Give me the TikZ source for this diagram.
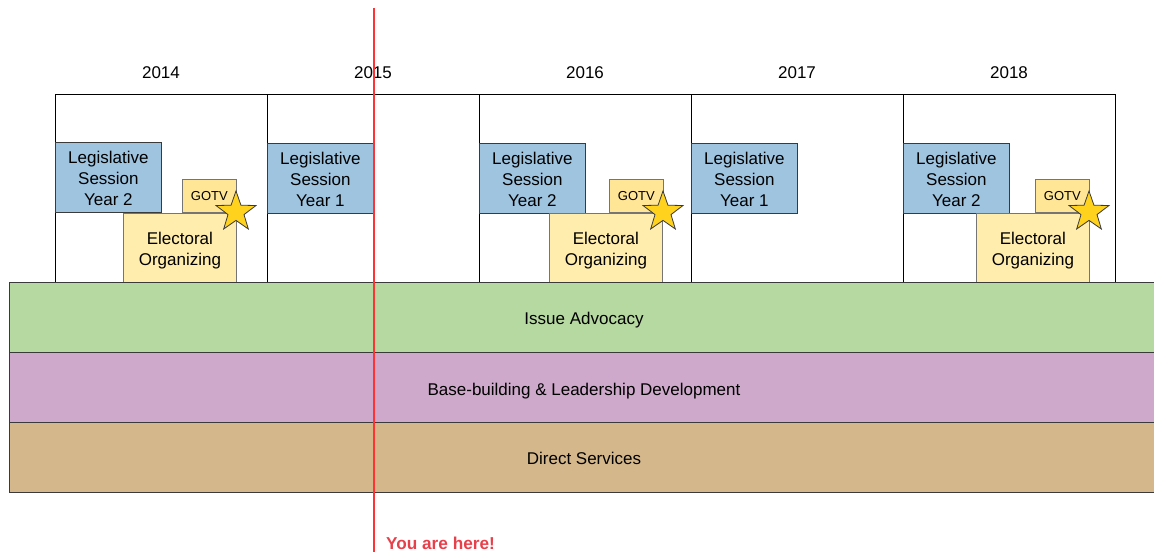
\documentclass[tikz,border=0pt]{standalone}
\usepackage{fontspec}
\setmainfont{Liberation Sans}
\usetikzlibrary{shapes.geometric}
\definecolor{legblue}{HTML}{9EC4E0}
\definecolor{elecyellow}{HTML}{FFEDAD}
\definecolor{gotvyellow}{HTML}{FFE596}
\definecolor{stargold}{HTML}{FFD21E}
\definecolor{bandgreen}{HTML}{B6D8A1}
\definecolor{bandpurple}{HTML}{CEA9CB}
\definecolor{bandtan}{HTML}{D4B88C}
\definecolor{herered}{HTML}{E8404A}
\definecolor{edge}{HTML}{3A3A3A}
\tikzset{
  txt/.style={font=\fontsize{17}{21}\selectfont},
  yearbox/.style={draw=black, line width=0.8pt, minimum width=212pt, minimum height=188pt, anchor=north west, inner sep=0pt},
  yearlabel/.style={txt},
  legbox/.style={draw=edge, fill=legblue, line width=0.8pt, minimum width=106pt, minimum height=70pt, anchor=north west, inner sep=0pt},
  gotvbox/.style={draw=edge!70, fill=gotvyellow, line width=0.8pt, minimum width=54pt, minimum height=33pt, anchor=north west, inner sep=0pt, font=\fontsize{13}{15}\selectfont},
  elecbox/.style={draw=edge!70, fill=elecyellow, line width=0.8pt, minimum width=113pt, minimum height=70pt, anchor=north west, inner sep=0pt},
  boxtext/.style={align=center, txt, inner sep=0pt},
  starmark/.style={star, star points=5, star point ratio=2.5, draw=edge, fill=stargold, line width=0.8pt, minimum size=42pt, inner sep=0pt},
  band/.style={draw=edge, line width=0.8pt, minimum width=1160pt, minimum height=70pt, anchor=north west, inner sep=0pt},
  bandlabel/.style={txt},
  hereline/.style={draw=red!80!white, line width=2pt},
}
\begin{document}
\begin{tikzpicture}[x=1pt, y=-1pt]
\clip (0,0) rectangle (1154,552);
\fill[white] (0,0) rectangle (1154,552);
% year boxes
\foreach \i/\yr in {0/2014,1/2015,2/2016,3/2017,4/2018}{
  \node[yearbox] (yb\yr) at (55+212*\i,94) {};
  \node[yearlabel] (yl\yr) at (161+212*\i,72.5) {\yr};
}
% legislative sessions
\foreach \n/\lx/\ly/\yn in {14/55/142/2, 15/267/143/1, 16/479/143/2, 17/691/143/1, 18/903/143/2}{
  \node[legbox] (ls\n) at (\lx,\ly) {};
  \node[boxtext, yshift=-1.5pt] (lst\n) at (ls\n.center) {Legislative\\Session\\Year \yn};
}
% GOTV, electoral organizing, star
\foreach \n/\gx/\ex in {14/182/123, 16/609/549, 18/1035/976}{
  \node[gotvbox] (gotv\n) at (\gx,179) {GOTV};
  \node[elecbox] (eo\n) at (\ex,212.5) {};
  \node[boxtext, yshift=-3pt] (eot\n) at (eo\n.center) {Electoral\\Organizing};
  \node[starmark] (star\n) at (\gx+54,212) {};
}
% bands
\node[band, fill=bandgreen] (adv) at (9,282) {};
\node[band, fill=bandpurple] (base) at (9,352) {};
\node[band, fill=bandtan] (serv) at (9,422) {};
\node[bandlabel] (advl) at (584,320.5) {Issue Advocacy};
\node[bandlabel] (basel) at (584,391.5) {Base-building \& Leadership Development};
\node[bandlabel] (servl) at (584,458.5) {Direct Services};
% you are here
\coordinate (ytop) at (373.5,8);
\coordinate (ybot) at (373.5,552);
\draw[hereline] (ytop) -- (ybot);
\node[anchor=west, text=herered, font=\bfseries\fontsize{17.2}{19}\selectfont, inner sep=0pt] (here) at (386,543.5) {You are here!};
\end{tikzpicture}
\end{document}
